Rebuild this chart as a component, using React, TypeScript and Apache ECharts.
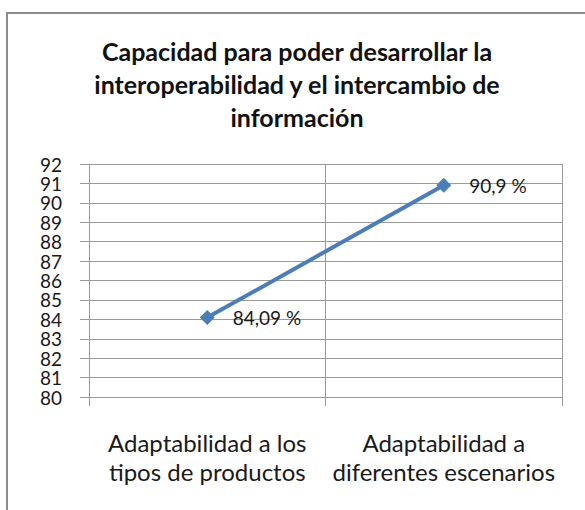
import React, { useEffect, useRef } from "react";
import * as echarts from "echarts";

const categories = [
  "Adaptabilidad a los\ntipos de productos",
  "Adaptabilidad a\ndiferentes escenarios",
];
const values = [84.09, 90.9];
const valueLabels = ["84,09 %", "90,9 %"];
const titleText =
  "Capacidad para poder desarrollar la\ninteroperabilidad y el intercambio de\ninformación";

const FONT = "Lato, 'Open Sans', sans-serif";

export default function App() {
  const ref = useRef<HTMLDivElement>(null);
  useEffect(() => {
    document.body.style.margin = "0";
    const chart = echarts.init(ref.current!, undefined, { renderer: "svg" });
    chart.setOption({
      animation: false,
      backgroundColor: "#ffffff",
      textStyle: { fontFamily: FONT },
      title: {
        text: titleText,
        left: 292,
        textAlign: "center",
        top: 29,
        textStyle: {
          fontFamily: FONT,
          fontWeight: "bold",
          fontSize: 25,
          lineHeight: 33,
          color: "#111",
        },
      },
      graphic: [
        {
          type: "rect",
          shape: { x: 7, y: 13, width: 700, height: 700 },
          style: { fill: "none", stroke: "#8c8c8c", lineWidth: 2 },
          silent: true,
        },
      ],
      grid: { left: 89, right: 23, top: 164, bottom: 113 },
      xAxis: {
        type: "category",
        data: categories,
        boundaryGap: true,
        axisLine: { lineStyle: { color: "#9a9a9a", width: 1 } },
        axisTick: { show: true, interval: 0, length: 9, lineStyle: { color: "#9a9a9a" } },
        splitLine: { show: true, interval: 0, lineStyle: { color: "#9a9a9a", width: 1 } },
        axisLabel: {
          interval: 0,
          margin: 31,
          fontSize: 24,
          lineHeight: 29,
          color: "#1a1a1a",
          fontFamily: FONT,
        },
      },
      yAxis: {
        type: "value",
        min: 80,
        max: 92,
        interval: 1,
        axisLine: { show: true, lineStyle: { color: "#9a9a9a", width: 1 } },
        axisTick: { show: true, length: 9, lineStyle: { color: "#9a9a9a" } },
        splitLine: { show: true, lineStyle: { color: "#9a9a9a", width: 1 } },
        axisLabel: {
          margin: 27,
          fontSize: 19,
          lineHeight: 19,
          color: "#1a1a1a",
          fontFamily: FONT,
          showMinLabel: true,
          showMaxLabel: true,
          hideOverlap: false,
        },
      },
      series: [
        {
          type: "line",
          data: values,
          symbol: "diamond",
          symbolSize: 15,
          itemStyle: { color: "#4a7ebb" },
          lineStyle: { color: "#4a7ebb", width: 4 },
          label: {
            show: true,
            position: "right",
            distance: 18,
            fontSize: 19,
            color: "#1a1a1a",
            fontFamily: FONT,
            formatter: (p: any) => valueLabels[p.dataIndex],
          },
        },
      ],
    });
    return () => chart.dispose();
  }, []);
  return <div ref={ref} style={{ width: 585, height: 510 }} />;
}
